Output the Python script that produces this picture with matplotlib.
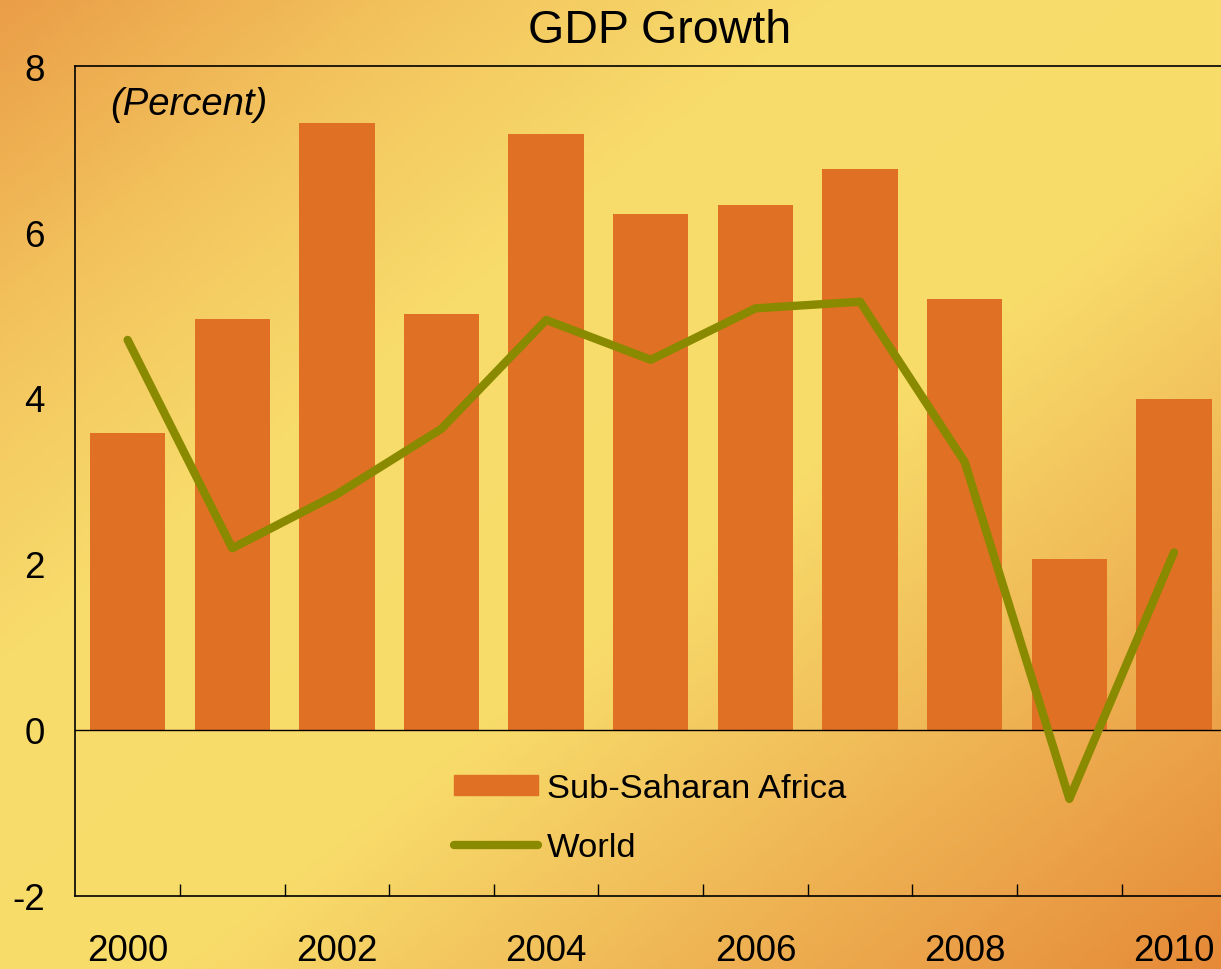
import numpy as np
import matplotlib
matplotlib.use('Agg')
import matplotlib.pyplot as plt
from matplotlib.colors import LinearSegmentedColormap
from matplotlib.patches import Patch
from matplotlib.lines import Line2D

plt.rcParams['font.family'] = ['Liberation Sans', 'DejaVu Sans']

years = [2000, 2001, 2002, 2003, 2004, 2005, 2006, 2007, 2008, 2009, 2010]
ssa = [3.58, 4.95, 7.31, 5.01, 7.18, 6.22, 6.33, 6.76, 5.19, 2.06, 3.99]
world = [4.70, 2.19, 2.84, 3.63, 4.94, 4.46, 5.08, 5.16, 3.23, -0.83, 2.14]
year_labels = ['2000', '', '2002', '', '2004', '', '2006', '', '2008', '', '2010']

fig = plt.figure(figsize=(12.21, 9.70), dpi=100)

# background gradient (orange corners, yellow diagonal band)
bg = fig.add_axes([0, 0, 1, 1], zorder=-10)
gx, gy = np.meshgrid(np.linspace(0, 1, 300), np.linspace(0, 1, 240))
s = gx + gy
cmap = LinearSegmentedColormap.from_list('bg', [
    (0.0, '#EA9E48'), (0.175, '#F3C45E'), (0.35, '#F8DD6C'),
    (0.575, '#F8DC6A'), (0.75, '#F0BA58'), (1.0, '#E68A38')])
bg.imshow(s, cmap=cmap, vmin=0, vmax=2, aspect='auto', extent=[0, 1, 0, 1],
          origin='upper')
bg.axis('off')

ax = fig.add_axes([75.3 / 1221, 73 / 970, 1151 / 1221, 830 / 970])
ax.patch.set_alpha(0)
x = np.arange(len(years))
ax.bar(x, ssa, width=0.72, color='#E07023', zorder=2, label='Sub-Saharan Africa')
ax.plot(x, world, color='#8A8A00', lw=6, solid_capstyle='round',
        solid_joinstyle='round', zorder=3, label='World')
ax.axhline(0, color='black', lw=1, zorder=2.5)

ax.set_xlim(-0.5, 10.5)
ax.set_ylim(-2, 8)
ax.set_yticks([-2, 0, 2, 4, 6, 8])
ax.set_yticklabels(['-2', '0', '2', '4', '6', '8'])
ax.set_xticks(x)
ax.set_xticklabels(year_labels)
ax.set_xticks(x[:-1] + 0.5, minor=True)
ax.tick_params(axis='y', length=0, pad=22, labelsize=26.5)
ax.tick_params(axis='x', which='major', length=0, pad=27, labelsize=26.5)
ax.tick_params(axis='x', which='minor', direction='in', length=9, width=1)
for sp in ['top', 'left', 'bottom']:
    ax.spines[sp].set_linewidth(1.2)
ax.spines['right'].set_visible(False)

ax.text(0.03, 0.942, '(Percent)', transform=ax.transAxes, fontsize=27.5,
        style='italic', va='baseline', ha='left')
fig.text(0.5405, (970 - 43) / 970, 'GDP Growth', fontsize=33.5,
         ha='center', va='baseline')

handles = [Patch(color='#E07023'),
           Line2D([0], [0], color='#8A8A00', lw=6, solid_capstyle='round')]
ax.legend(handles, ['Sub-Saharan Africa', 'World'], loc='upper left',
          bbox_to_anchor=(0.329, 0.148), frameon=False, fontsize=24.8,
          handlelength=2.45, handleheight=0.55, handletextpad=0.25,
          labelspacing=0.82, borderpad=0, borderaxespad=0)

fig.savefig('out.png', dpi=100)
